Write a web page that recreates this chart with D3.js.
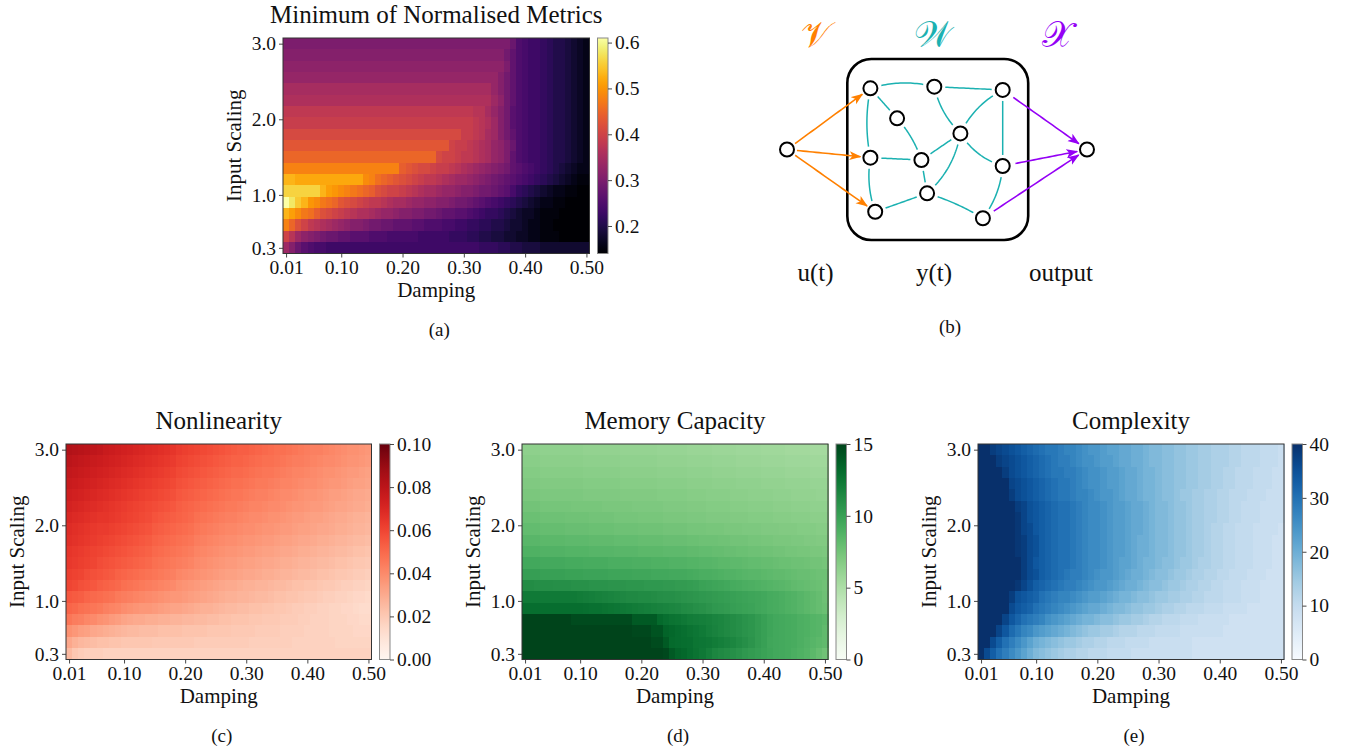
<!DOCTYPE html>
<html lang="en">
<head>
<meta charset="utf-8">
<title>Reservoir metrics</title>
<style>
  body { margin: 0; background: #fff; font-family: "Liberation Serif", "DejaVu Serif", serif; }
  svg text { font-family: "Liberation Serif", "DejaVu Serif", serif; fill: #111; }
</style>
<script src="https://d3js.org/d3.v7.min.js"></script>
</head>
<body>
<div id="chart"></div>
<script>
// ---- data ----
const dampingValues = [0.01,0.02,0.03,0.04,0.05,0.06,0.07,0.08,0.09,0.10,
  0.11,0.12,0.13,0.14,0.15,0.16,0.17,0.18,0.19,0.20,
  0.21,0.22,0.23,0.24,0.25,0.26,0.27,0.28,0.29,0.30,
  0.31,0.32,0.33,0.34,0.35,0.36,0.37,0.38,0.39,0.40,
  0.41,0.42,0.43,0.44,0.45,0.46,0.47,0.48,0.49,0.50];
// rows top -> bottom
const inputScalingValues = [3.00,2.85,2.70,2.55,2.40,2.25,2.10,1.95,1.80,1.65,1.50,1.35,1.20,1.05,0.90,0.75,0.60,0.45,0.30];

const xTickValues = [0.01, 0.10, 0.20, 0.30, 0.40, 0.50];
const yTickValues = [0.3, 1.0, 2.0, 3.0];

// minimum of normalised metrics, in hundredths
const minMetricHundredths = [
  [30,30,30,30,30,30,30,30,30,30, 30,30,30,30,30,30,30,30,30,30, 30,30,30,30,30,30,30,30,30,30, 30,30,30,30,30,30,30,28,25,24, 23,23,22,21,20,20,19,18,17,16],
  [31,31,31,31,31,31,31,31,31,31, 31,31,31,31,31,31,31,31,31,31, 31,31,31,31,31,31,31,31,31,31, 31,31,31,31,31,31,29,27,25,24, 23,23,22,21,20,20,19,18,17,16],
  [32,32,32,32,32,32,32,32,32,32, 32,32,32,32,32,32,32,32,32,32, 32,32,32,32,32,32,32,32,32,32, 32,32,32,32,32,32,30,27,25,24, 23,23,22,21,20,20,19,18,17,16],
  [33,33,33,33,33,33,33,33,33,33, 33,33,33,33,33,33,33,33,33,33, 33,33,33,33,33,33,33,33,33,33, 33,33,33,33,33,31,29,27,25,24, 23,23,22,21,20,20,19,18,17,16],
  [35,35,35,35,35,35,35,35,35,35, 35,35,35,35,35,35,35,35,35,35, 35,35,35,35,35,35,35,35,35,35, 35,35,35,35,33,31,29,27,25,24, 23,23,22,21,20,20,19,18,17,16],
  [36,36,36,36,36,36,36,36,36,36, 36,36,36,36,36,36,36,36,36,36, 36,36,36,36,36,36,36,36,36,36, 36,36,36,36,34,32,29,27,25,24, 23,23,22,21,20,20,19,18,17,16],
  [38,38,38,38,38,38,38,38,38,38, 38,38,38,38,38,38,38,38,38,38, 38,38,38,38,38,38,38,38,38,38, 38,37,37,35,33,31,29,26,25,24, 23,23,22,21,20,20,19,18,17,16],
  [39,39,39,39,39,39,39,39,39,39, 39,39,39,39,39,39,39,39,39,39, 39,39,39,39,39,39,39,39,39,39, 39,38,37,36,34,31,29,26,25,24, 23,23,22,21,20,20,19,18,17,16],
  [41,41,41,41,41,41,41,41,41,41, 41,41,41,41,41,41,41,41,41,41, 41,41,41,41,41,41,41,41,41,39, 39,38,37,35,34,31,29,27,25,24, 23,23,22,21,20,20,19,18,17,16],
  [43,43,43,43,43,43,43,43,43,43, 43,43,43,43,43,43,43,43,43,43, 43,43,43,43,43,43,43,40,39,39, 38,37,36,35,33,32,30,28,25,24, 23,23,22,21,20,20,19,18,17,16],
  [45,45,45,45,45,45,45,45,45,45, 45,45,45,45,45,45,45,45,45,45, 45,45,45,45,45,41,40,40,39,38, 38,37,36,35,33,32,30,27,25,24, 23,23,22,21,20,20,19,18,17,16],
  [48,48,48,48,48,48,48,48,48,48, 48,48,48,48,48,48,48,48,48,44, 43,42,41,41,40,39,39,38,37,36, 35,34,33,32,31,30,29,27,26,25, 24,23,22,21,20,19,18,17,16,16],
  [53,53,52,52,52,52,52,52,52,52, 52,52,52,49,48,46,45,44,43,42, 41,40,39,38,38,37,36,35,34,34, 33,32,31,30,29,28,27,26,25,24, 23,22,21,20,19,18,17,16,15,15],
  [56,56,56,56,56,56,53,51,50,49, 48,47,46,45,44,42,41,40,40,39, 38,37,36,35,35,34,33,33,32,31, 31,30,29,29,28,27,26,24,22,21, 20,19,18,17,16,16,15,15,14,14],
  [61,58,55,53,50,49,47,46,45,43, 42,41,40,39,38,38,37,36,35,35, 34,33,33,32,32,31,31,30,29,29, 28,27,26,25,24,23,22,21,20,19, 18,17,16,16,15,15,14,14,14,14],
  [53,51,49,47,46,44,42,41,40,39, 38,37,36,36,35,34,33,33,32,31, 31,30,30,29,29,28,27,27,26,26, 25,24,23,22,22,21,20,19,18,17, 17,16,15,15,15,14,14,14,14,14],
  [48,45,42,40,38,37,36,35,34,33, 32,31,31,30,29,29,28,28,27,27, 27,26,26,25,25,25,24,24,23,23, 22,22,21,21,20,20,19,18,18,17, 16,16,15,15,14,14,14,14,14,14],
  [40,37,34,32,31,30,29,28,28,27, 27,26,26,26,25,25,25,24,24,24, 24,24,23,23,23,23,23,22,22,22, 21,21,20,20,19,19,18,18,17,17, 16,16,15,15,15,14,14,14,14,14],
  [34,31,28,26,25,24,24,23,23,23, 23,23,23,23,23,23,23,23,23,23, 23,23,23,23,23,23,23,23,23,23, 23,23,22,22,22,21,21,20,20,19, 19,19,18,18,18,18,18,18,18,18]
];

// nonlinearity, in thousandths
const nonlinearityThousandths = [
  [83,82,81,80,79,78,76,75,74,73, 72,71,70,69,68,67,66,65,63,62, 61,60,59,58,57,56,55,54,53,53, 52,51,50,49,48,48,47,46,45,44, 43,43,42,41,40,39,38,38,37,36],
  [80,79,78,77,76,75,74,73,72,71, 70,69,68,67,66,65,64,63,61,60, 59,58,57,56,55,54,53,52,52,51, 50,49,48,48,47,46,45,44,44,43, 42,41,40,40,39,38,37,37,36,35],
  [78,77,76,75,74,73,72,71,70,69, 68,67,66,65,64,63,62,61,59,58, 57,56,55,54,53,52,51,50,50,49, 48,47,46,46,45,44,43,42,42,41, 40,39,38,38,37,36,35,35,34,33],
  [76,75,74,73,72,71,70,69,68,67, 66,65,64,63,62,61,60,59,57,56, 55,54,53,52,51,50,49,48,48,47, 46,45,45,44,43,42,42,41,40,39, 39,38,37,36,36,35,34,33,33,32],
  [74,73,72,71,70,69,68,67,66,65, 64,63,62,61,60,59,58,57,55,54, 53,52,51,50,49,48,47,46,46,45, 44,43,43,42,41,40,40,39,38,37, 37,36,35,34,34,33,32,31,31,30],
  [72,71,70,69,68,67,66,65,64,63, 62,61,60,59,58,57,56,55,53,52, 51,50,49,48,47,46,45,45,44,43, 42,42,41,40,40,39,38,37,37,36, 35,35,34,33,32,32,31,30,30,29],
  [70,69,68,67,66,65,65,64,63,62, 61,60,59,58,56,55,54,53,52,51, 50,48,47,46,45,44,43,43,42,41, 40,40,39,38,38,37,36,35,35,34, 33,33,32,31,30,30,29,28,28,27],
  [68,67,66,65,64,63,63,62,61,60, 59,58,57,56,54,53,52,51,50,49, 48,46,45,44,43,42,41,41,40,39, 39,38,37,37,36,35,35,34,33,33, 32,31,31,30,29,29,28,27,27,26],
  [67,66,65,64,63,62,61,60,59,58, 57,56,55,54,52,51,50,49,48,47, 46,44,43,42,41,40,39,39,38,37, 37,36,35,35,34,33,33,32,31,31, 30,29,29,28,27,27,26,25,25,24],
  [65,64,63,62,61,60,59,58,57,56, 55,54,53,52,50,49,48,47,46,45, 44,42,41,40,39,38,37,37,36,35, 35,34,33,33,32,31,31,30,29,29, 28,27,27,26,25,25,24,23,23,22],
  [64,63,62,61,60,58,57,56,55,54, 53,52,51,50,48,47,46,45,44,43, 42,40,39,38,37,36,35,35,34,33, 33,32,31,31,30,29,29,28,27,27, 26,25,25,24,23,23,22,21,21,20],
  [62,61,60,58,57,56,55,54,52,51, 50,49,48,47,46,45,44,43,41,40, 39,38,37,36,35,34,33,33,32,31, 31,30,29,29,28,27,27,26,25,25, 24,23,23,22,21,21,20,19,19,18],
  [60,59,57,56,55,53,52,51,50,48, 47,46,45,44,43,42,41,40,38,37, 36,35,34,33,32,31,30,30,29,28, 28,27,27,26,25,25,24,23,23,22, 22,21,20,20,19,18,18,17,17,16],
  [55,54,53,51,50,49,48,47,45,44, 43,42,41,40,39,38,37,36,36,35, 34,33,32,31,30,29,28,28,27,27, 26,25,25,24,23,23,22,22,21,20, 20,19,18,18,17,17,16,15,15,14],
  [51,50,48,47,46,45,43,42,41,39, 38,37,36,36,35,34,33,32,32,31, 30,29,28,28,27,26,25,25,24,24, 23,23,22,22,21,21,20,19,19,18, 18,17,17,16,16,15,15,14,13,13],
  [46,44,43,41,40,38,37,35,34,32, 31,30,30,29,29,28,28,27,27,26, 26,25,25,24,24,23,23,22,22,22, 21,21,20,20,20,19,19,19,18,18, 17,17,17,16,16,16,15,15,14,14],
  [38,36,34,33,31,30,29,28,27,26, 25,25,24,24,24,23,23,23,23,22, 22,22,22,21,21,21,21,20,20,20, 20,19,19,19,19,18,18,18,18,17, 17,17,17,16,16,16,16,15,15,15],
  [31,28,26,25,24,23,23,22,22,21, 21,21,21,21,20,20,20,20,20,20, 20,19,19,19,19,19,19,19,19,19, 18,18,18,18,18,18,18,17,17,17, 17,17,17,17,16,16,16,16,16,16],
  [25,21,19,18,18,18,17,17,17,17, 17,17,17,17,17,17,17,17,17,17, 17,17,17,17,17,17,17,17,17,17, 17,17,17,17,17,17,17,17,17,17, 17,17,17,17,17,17,17,17,17,17]
];

// memory capacity, in tenths
const memoryCapacityTenths = [
  [64,64,64,63,63,63,63,63,63,63, 62,62,62,62,62,62,61,61,61,61, 61,61,60,60,60,60,60,59,59,59, 59,58,58,58,58,57,57,57,57,56, 56,56,56,55,55,55,55,54,54,54],
  [66,66,66,65,65,65,65,65,65,65, 64,64,64,64,64,64,63,63,63,63, 63,63,62,62,62,62,62,61,61,61, 61,60,60,60,60,59,59,59,59,58, 58,58,58,57,57,57,57,56,56,56],
  [68,68,68,67,67,67,67,67,67,67, 66,66,66,66,66,66,65,65,65,65, 65,65,64,64,64,64,64,63,63,63, 63,62,62,62,62,61,61,61,61,60, 60,60,60,59,59,59,59,58,58,58],
  [70,70,70,69,69,69,69,69,69,69, 68,68,68,68,68,68,67,67,67,67, 67,67,66,66,66,66,66,65,65,65, 65,64,64,64,64,63,63,63,63,62, 62,62,62,61,61,61,61,60,60,60],
  [72,72,72,71,71,71,71,71,71,71, 70,70,70,70,70,70,69,69,69,69, 69,69,68,68,68,68,68,67,67,67, 66,66,66,66,65,65,65,64,64,64, 64,63,63,63,62,62,62,62,61,61],
  [75,75,75,74,74,74,74,74,73,73, 73,73,73,72,72,72,72,72,71,71, 71,71,71,70,70,70,70,69,69,69, 68,68,68,68,67,67,67,66,66,66, 66,65,65,65,64,64,64,63,63,63],
  [78,78,78,77,77,77,77,76,76,76, 76,75,75,75,75,74,74,74,74,73, 73,73,73,72,72,72,72,71,71,71, 70,70,70,70,69,69,69,68,68,68, 68,67,67,67,66,66,66,65,65,65],
  [81,81,81,80,80,80,80,79,79,79, 79,78,78,78,78,77,77,77,77,76, 76,76,76,75,75,75,75,74,74,74, 73,73,73,72,72,72,71,71,71,70, 70,70,69,69,69,68,68,68,67,67],
  [85,85,85,84,84,84,84,83,83,83, 83,82,82,82,82,81,81,81,81,80, 80,80,80,79,79,79,79,78,78,77, 77,77,76,76,75,75,75,74,74,73, 73,72,72,72,71,71,70,70,69,69],
  [89,89,89,88,88,88,88,87,87,87, 87,86,86,86,86,85,85,85,85,84, 84,84,84,83,83,83,83,82,82,81, 81,80,80,79,79,78,78,77,77,76, 76,75,75,74,74,73,73,72,72,71],
  [95,95,95,94,94,94,94,93,93,93, 92,92,92,92,91,91,91,91,90,90, 90,89,89,89,88,88,88,87,87,86, 86,85,84,84,83,83,82,81,81,80, 80,79,78,78,77,77,76,75,75,74],
  [101,101,101,100,100,100,100,99,99,99, 98,98,98,98,97,97,97,97,96,96, 96,95,95,95,94,94,94,93,92,91, 91,90,89,88,88,87,86,85,85,84, 83,82,82,81,80,79,79,78,77,77],
  [112,112,111,111,111,110,110,110,109,109, 109,108,108,108,107,107,107,106,106,106, 105,105,105,104,104,103,103,102,101,99, 98,97,96,95,93,92,91,90,89,88, 87,86,85,84,82,81,80,79,78,76],
  [123,123,123,123,123,123,123,123,123,122, 121,120,119,118,117,116,115,114,114,113, 113,112,111,110,110,109,108,107,106,105, 104,103,102,101,100,99,98,97,96,95, 93,92,91,89,88,86,84,82,80,77],
  [130,130,130,130,130,130,130,130,130,130, 129,128,128,127,126,125,124,123,122,121, 120,119,118,117,116,115,113,112,110,109, 107,105,104,103,101,100,99,98,96,95, 93,92,91,89,88,86,84,82,80,78],
  [150,150,150,150,150,150,150,150,147,147, 147,147,147,147,147,147,147,147,140,140, 140,140,132,129,127,126,124,122,121,120, 119,117,116,114,112,110,108,106,103,100, 97,95,94,93,92,90,89,87,86,84],
  [150,150,150,150,150,150,150,150,150,150, 150,150,150,150,150,150,150,150,148,148, 148,143,143,135,133,131,129,127,125,123, 120,118,116,114,112,110,108,106,103,100, 97,95,94,93,92,90,89,87,86,82],
  [150,150,150,150,150,150,150,150,150,150, 150,150,150,150,150,150,150,150,150,150, 150,147,147,140,132,131,130,129,126,125, 124,122,120,118,116,113,110,107,103,100, 96,95,94,93,92,90,88,86,84,82],
  [150,150,150,150,150,150,150,150,150,150, 150,150,150,150,150,150,150,150,150,150, 150,150,150,148,140,135,133,130,127,124, 120,116,114,112,110,108,105,103,101,99, 97,95,94,93,91,89,87,84,80,76]
];

// complexity
const complexityValues = [
  [40,40,38,37,36,35,34,33,32,31, 30,29,29,28,27,27,26,25,24,24, 23,22,22,21,21,20,20,19,18,18, 17,17,16,16,15,15,14,14,13,13, 13,12,12,11,11,11,10,10,10,9],
  [40,40,40,38,37,36,35,34,33,32, 31,30,29,28,28,27,26,25,25,24, 23,23,22,21,21,20,20,19,18,18, 17,17,16,16,15,15,14,14,13,13, 13,12,12,11,11,11,10,10,10,9],
  [40,40,40,40,38,36,35,34,33,32, 31,30,29,29,28,28,27,26,25,25, 24,23,23,22,21,21,20,19,19,18, 17,17,16,16,15,15,14,14,13,13, 12,12,11,11,11,10,10,10,9,9],
  [40,40,40,40,40,37,36,35,34,33, 32,31,30,29,29,28,27,26,25,25, 24,23,23,22,21,21,20,19,19,18, 17,17,16,16,15,15,14,14,13,13, 12,12,11,11,11,10,10,10,9,9],
  [40,40,40,40,40,38,36,35,34,33, 32,31,30,29,29,28,27,27,26,25, 24,24,23,22,21,21,20,19,19,18, 17,17,16,15,15,14,14,13,13,12, 12,11,11,11,10,10,10,9,9,9],
  [40,40,40,40,40,40,38,37,35,34, 33,32,31,30,30,29,28,27,26,26, 25,24,23,23,22,21,21,20,19,18, 18,17,16,16,15,14,14,13,13,12, 12,11,11,10,10,10,9,9,9,9],
  [40,40,40,40,40,40,39,37,35,34, 33,32,31,30,30,29,28,27,26,26, 25,24,23,23,22,21,21,20,19,18, 18,17,16,16,15,14,14,13,13,12, 12,11,11,10,10,10,9,9,9,9],
  [40,40,40,40,40,40,39,37,36,34, 33,32,31,30,30,29,28,27,26,26, 25,24,23,23,22,21,21,20,19,18, 18,17,16,16,15,14,14,13,12,12, 11,11,10,10,10,9,9,9,9,8],
  [40,40,40,40,40,40,39,38,36,35, 33,32,31,30,30,29,28,27,26,26, 25,24,23,23,22,21,20,20,19,18, 18,17,16,16,15,14,14,13,12,12, 11,11,10,10,10,9,9,9,8,8],
  [40,40,40,40,40,40,39,38,36,35, 33,32,31,30,30,29,28,27,26,26, 25,24,23,23,22,21,20,20,19,18, 18,17,16,16,15,14,14,13,12,12, 11,11,10,10,10,9,9,9,8,8],
  [40,40,40,40,40,40,40,38,36,34, 33,32,31,30,30,29,28,27,26,26, 25,24,23,22,22,21,20,19,19,18, 17,17,16,15,15,14,13,13,12,12, 11,11,10,10,10,9,9,9,8,8],
  [40,40,40,40,40,40,40,38,36,35, 33,32,31,30,29,28,28,27,26,25, 24,24,23,22,21,20,20,19,18,17, 17,16,15,15,14,13,13,12,12,11, 11,10,10,10,9,9,9,8,8,8],
  [40,40,40,40,40,40,39,37,35,33, 32,31,30,29,28,28,27,26,25,24, 24,23,22,21,20,20,19,18,17,17, 16,15,15,14,13,13,12,12,11,11, 10,10,10,9,9,9,8,8,8,8],
  [40,40,40,40,40,38,35,34,33,32, 30,29,28,27,27,26,25,24,23,23, 22,21,20,19,19,18,17,17,16,15, 15,14,14,13,13,12,12,11,11,11, 10,10,10,9,9,9,8,8,8,8],
  [40,40,40,40,40,36,34,33,32,30, 29,28,27,26,25,24,23,22,21,21, 20,19,18,18,17,16,16,15,15,14, 13,13,12,12,11,11,11,10,10,10, 9,9,9,9,8,8,8,8,8,8],
  [40,40,40,40,37,34,32,30,29,28, 27,25,24,23,22,21,20,19,19,18, 17,17,16,15,15,14,14,13,12,12, 11,11,11,10,10,10,9,9,9,9, 9,8,8,8,8,8,8,8,8,8],
  [40,40,40,37,34,31,29,27,26,24, 23,22,21,20,19,18,17,16,15,15, 14,14,13,12,12,12,11,11,11,10, 10,10,10,9,9,9,9,9,9,9, 8,8,8,8,8,8,8,8,8,8],
  [40,40,36,33,30,28,26,24,22,20, 19,18,17,16,15,15,14,13,13,12, 12,11,11,11,10,10,10,10,9,9, 9,9,9,9,9,8,8,8,8,8, 8,8,8,8,8,8,8,8,8,8],
  [40,36,33,30,28,26,24,22,20,18, 17,16,15,14,13,13,12,12,11,11, 11,10,10,10,10,9,9,9,9,9, 9,9,9,9,9,8,8,8,8,8, 8,8,8,8,8,8,8,8,8,8]
];

// network diagram: nodes in diagram units (input at x=0, output at x=100)
const netNodes = [
  {id: "in", x: 0, y: 50}, {id: "n1", x: 27.8, y: 16.2}, {id: "n2", x: 49.1, y: 15.3},
  {id: "n3", x: 71.9, y: 17.1}, {id: "n4", x: 36.7, y: 32.8}, {id: "n5", x: 57.8, y: 41.1},
  {id: "n6", x: 27.8, y: 54.5}, {id: "n7", x: 44.8, y: 55.8}, {id: "n8", x: 71.9, y: 59.1},
  {id: "n9", x: 46.7, y: 74.2}, {id: "n10", x: 29.4, y: 84.4}, {id: "n11", x: 65.3, y: 88.0},
  {id: "out", x: 100, y: 50}
];
// [source, target, bend]
const netEdges = [
  ["n1","n2",-9], ["n2","n3",0], ["n1","n4",0], ["n1","n6",7], ["n4","n7",-5],
  ["n2","n5",8], ["n3","n5",10], ["n3","n8",0], ["n5","n7",0], ["n5","n8",10],
  ["n5","n9",-12], ["n6","n7",0], ["n6","n10",7], ["n7","n9",0], ["n9","n10",0],
  ["n9","n11",-4], ["n8","n11",-8]
];
const inputArrows = [["in","n1"], ["in","n6"], ["in","n10"]];
const outputArrows = [["n3","out"], ["n8","out"], ["n11","out"]];

// ---- drawing ----
const W = 1349, H = 749;
const svg = d3.select("#chart").append("svg").attr("width", W).attr("height", H);

const panels = [
  {title: "Minimum of Normalised Metrics", grid: minMetricHundredths.map(r => r.map(v => v / 100)),
   interp: d3.interpolateInferno, domain: [0.14, 0.61], cbTicks: [0.2, 0.3, 0.4, 0.5, 0.6], cbFmt: ".1f",
   left: 283, top: 38, width: 306.5, height: 215.5, caption: "(a)"},
  {title: "Nonlinearity", grid: nonlinearityThousandths.map(r => r.map(v => v / 1000)),
   interp: d3.interpolateReds, domain: [0, 0.10], cbTicks: [0, 0.02, 0.04, 0.06, 0.08, 0.10], cbFmt: ".2f",
   left: 66, top: 444, width: 305.5, height: 215.5, caption: "(c)"},
  {title: "Memory Capacity", grid: memoryCapacityTenths.map(r => r.map(v => v / 10)),
   interp: d3.interpolateGreens, domain: [0, 15], cbTicks: [0, 5, 10, 15], cbFmt: "d",
   left: 522, top: 444, width: 306, height: 215.5, caption: "(d)"},
  {title: "Complexity", grid: complexityValues,
   interp: d3.interpolateBlues, domain: [0, 40], cbTicks: [0, 10, 20, 30, 40], cbFmt: "d",
   left: 978, top: 444, width: 306, height: 215.5, caption: "(e)"}
];

const defs = svg.append("defs");
const dStep = dampingValues[1] - dampingValues[0];
const sStep = inputScalingValues[0] - inputScalingValues[1];

function styleAxis(g) {
  g.select(".domain").remove();
  g.selectAll(".tick line").attr("stroke", "#333").attr("stroke-width", 0.9);
  g.selectAll(".tick text").attr("font-size", 19.5).attr("fill", "#111")
    .style("font-family", '"Liberation Serif", serif');
}

panels.forEach((p, pi) => {
  const g = svg.append("g");
  const x = d3.scaleLinear()
    .domain([dampingValues[0] - dStep / 2, dampingValues[dampingValues.length - 1] + dStep / 2])
    .range([p.left, p.left + p.width]);
  const sMin = d3.min(inputScalingValues), sMax = d3.max(inputScalingValues);
  const y = d3.scaleLinear().domain([sMin - sStep / 2, sMax + sStep / 2])
    .range([p.top + p.height, p.top]);
  const color = d3.scaleSequential(p.interp).domain(p.domain).clamp(true);

  const cells = [];
  p.grid.forEach((row, i) => row.forEach((v, j) => cells.push({d: dampingValues[j], s: inputScalingValues[i], v})));
  g.append("g").attr("shape-rendering", "crispEdges")
    .selectAll("rect").data(cells).join("rect")
    .attr("x", c => x(c.d - dStep / 2))
    .attr("y", c => y(c.s + sStep / 2))
    .attr("width", c => x(c.d + dStep / 2) - x(c.d - dStep / 2) + 0.6)
    .attr("height", c => y(c.s - sStep / 2) - y(c.s + sStep / 2) + 0.6)
    .attr("fill", c => color(c.v));

  g.append("rect").attr("x", p.left).attr("y", p.top).attr("width", p.width).attr("height", p.height)
    .attr("fill", "none").attr("stroke", "#333").attr("stroke-width", 1);

  g.append("g").attr("transform", `translate(0,${p.top + p.height})`)
    .call(d3.axisBottom(x).tickValues(xTickValues).tickFormat(d3.format(".2f")).tickSize(4).tickPadding(3))
    .call(styleAxis);
  g.append("g").attr("transform", `translate(${p.left},0)`)
    .call(d3.axisLeft(y).tickValues(yTickValues).tickFormat(d3.format(".1f")).tickSize(4).tickPadding(3))
    .call(styleAxis);

  // colorbar
  const cbX = p.left + p.width + 8, cbW = 10.5;
  const gid = "cb" + pi;
  const grad = defs.append("linearGradient").attr("id", gid)
    .attr("x1", 0).attr("y1", 1).attr("x2", 0).attr("y2", 0);
  d3.range(0, 1.0001, 0.02).forEach(t => grad.append("stop")
    .attr("offset", t).attr("stop-color", p.interp(t)));
  g.append("rect").attr("x", cbX).attr("y", p.top).attr("width", cbW).attr("height", p.height)
    .attr("fill", `url(#${gid})`).attr("stroke", "#888").attr("stroke-width", 1);
  const cbScale = d3.scaleLinear().domain(p.domain).range([p.top + p.height, p.top]);
  g.append("g").attr("transform", `translate(${cbX + cbW},0)`)
    .call(d3.axisRight(cbScale).tickValues(p.cbTicks).tickFormat(d3.format(p.cbFmt)).tickSize(4).tickPadding(3))
    .call(styleAxis);

  // labels
  const cx = p.left + p.width / 2;
  g.append("text").attr("x", cx).attr("y", p.top - 15).attr("text-anchor", "middle")
    .attr("font-size", 25).text(p.title);
  g.append("text").attr("x", cx).attr("y", p.top + p.height + 43).attr("text-anchor", "middle")
    .attr("font-size", 21).text("Damping");
  g.append("text").attr("transform", `translate(${p.left - 42},${p.top + p.height / 2}) rotate(-90)`)
    .attr("text-anchor", "middle").attr("font-size", 21).text("Input Scaling");
  g.append("text").attr("x", cx + 3).attr("y", p.top + p.height + 82).attr("text-anchor", "middle")
    .attr("font-size", 19).text(p.caption);
});

// ---- network panel (b) ----
const teal = "#1bb1b1", orange = "#ff8000", purple = "#9400f5";
const nx = d3.scaleLinear().domain([0, 100]).range([787, 1087]);
const ny = d3.scaleLinear().domain([0, 100]).range([59, 240]);
const nodeById = new Map(netNodes.map(n => [n.id, n]));
const px = n => [nx(n.x), ny(n.y)];
const net = svg.append("g");

function curvePoints(a, b, bend, gapA, gapB) {
  const [x1, y1] = px(a), [x2, y2] = px(b);
  const dx = x2 - x1, dy = y2 - y1, len = Math.hypot(dx, dy);
  const cxp = (x1 + x2) / 2 - dy / len * bend, cyp = (y1 + y2) / 2 + dx / len * bend;
  const t0 = gapA / len, t1 = 1 - gapB / len;
  return d3.range(0, 21).map(k => {
    const t = t0 + (t1 - t0) * k / 20, u = 1 - t;
    return [u * u * x1 + 2 * u * t * cxp + t * t * x2, u * u * y1 + 2 * u * t * cyp + t * t * y2];
  });
}

net.append("rect").attr("x", nx(20.1)).attr("y", ny(0)).attr("width", nx(80.4) - nx(20.1))
  .attr("height", ny(100) - ny(0)).attr("rx", 24).attr("fill", "none")
  .attr("stroke", "#000").attr("stroke-width", 2.6);

net.append("g").selectAll("path").data(netEdges).join("path")
  .attr("d", e => d3.line()(curvePoints(nodeById.get(e[0]), nodeById.get(e[1]), e[2], 11, 11)))
  .attr("fill", "none").attr("stroke", teal).attr("stroke-width", 1.5);

[["ao", orange], ["ap", purple]].forEach(([id, col]) => {
  defs.append("marker").attr("id", id).attr("viewBox", "0 -5 12 10").attr("refX", 11).attr("refY", 0)
    .attr("markerWidth", 12).attr("markerHeight", 10).attr("markerUnits", "userSpaceOnUse")
    .attr("orient", "auto")
    .append("path").attr("d", "M0,-4.5L12,0L0,4.5L3,0Z").attr("fill", col);
});
net.append("g").selectAll("path").data(inputArrows).join("path")
  .attr("d", e => d3.line()(curvePoints(nodeById.get(e[0]), nodeById.get(e[1]), 0, 10, 10)))
  .attr("stroke", orange).attr("stroke-width", 1.6).attr("fill", "none").attr("marker-end", "url(#ao)");
net.append("g").selectAll("path").data(outputArrows).join("path")
  .attr("d", e => d3.line()(curvePoints(nodeById.get(e[0]), nodeById.get(e[1]), 0, 13, 10)))
  .attr("stroke", purple).attr("stroke-width", 1.6).attr("fill", "none").attr("marker-end", "url(#ap)");

net.append("g").selectAll("circle").data(netNodes).join("circle")
  .attr("cx", n => nx(n.x)).attr("cy", n => ny(n.y)).attr("r", 7)
  .attr("fill", "#fff").attr("stroke", "#000").attr("stroke-width", 2);

const mathLabels = [
  {t: "\u{1D4B1}", x: 9.5, col: orange}, {t: "\u{1D4B2}", x: 48.8, col: teal}, {t: "\u{1D4B3}", x: 90, col: purple}
];
net.selectAll("text.math").data(mathLabels).join("text").attr("class", "math")
  .attr("x", d => nx(d.x)).attr("y", 47).attr("text-anchor", "middle")
  .attr("font-size", 36).style("fill", d => d.col).text(d => d.t);

const bottomLabels = [{t: "u(t)", x: 9.5}, {t: "y(t)", x: 49}, {t: "output", x: 91.3}];
net.selectAll("text.lab").data(bottomLabels).join("text").attr("class", "lab")
  .attr("x", d => nx(d.x)).attr("y", 281).attr("text-anchor", "middle")
  .attr("font-size", 25).text(d => d.t);

net.append("text").attr("x", 950).attr("y", 333).attr("text-anchor", "middle")
  .attr("font-size", 19).text("(b)");
</script>
</body>
</html>
